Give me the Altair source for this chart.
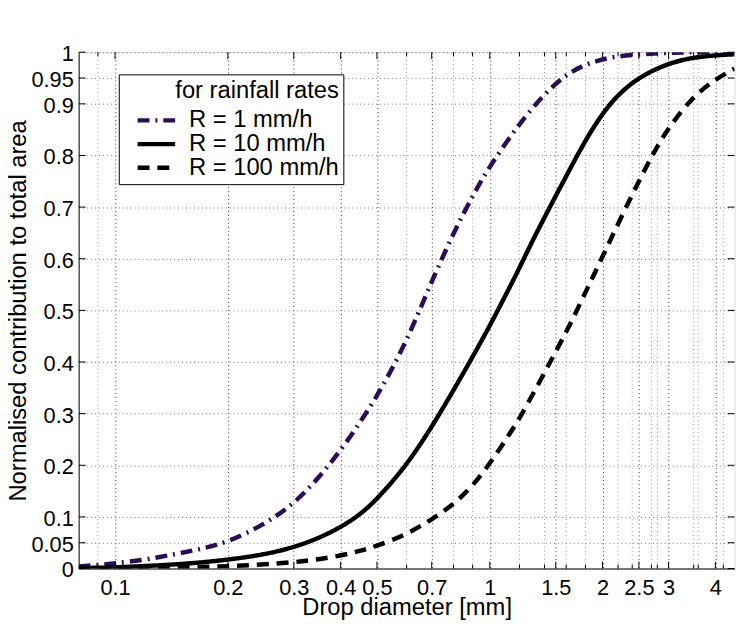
import altair as alt
import pandas as pd

SERIES = ["R = 1 mm/h", "R = 10 mm/h", "R = 100 mm/h"]
COLORS = ["#2c0b57", "#000000", "#000000"]
DASHES = [[12, 6, 2, 6], [1, 0], [12, 8]]

R1_D = [0.08, 0.09, 0.1, 0.12, 0.145, 0.17, 0.2, 0.25, 0.3, 0.35, 0.4, 0.45, 0.5,
        0.55, 0.6, 0.65, 0.7, 0.8, 0.9, 1.0, 1.2, 1.4, 1.6, 1.8, 2.1, 2.5, 3.0, 3.5, 4.0, 4.5]
R1_V = [0.004, 0.007, 0.010, 0.017, 0.028, 0.038, 0.051, 0.085, 0.125, 0.176, 0.229,
        0.282, 0.334, 0.388, 0.443, 0.500, 0.556, 0.650, 0.722, 0.780, 0.862, 0.920, 0.957,
        0.977, 0.991, 0.996, 0.999, 1.0, 1.0, 1.0]

R10_D = [0.08, 0.1, 0.13, 0.16, 0.2, 0.25, 0.3, 0.35, 0.4, 0.45, 0.5, 0.6, 0.7, 0.8, 0.9,
         1.0, 1.1, 1.2, 1.3, 1.4, 1.5, 1.6, 1.8, 2.0, 2.2, 2.5, 3.0, 3.5, 4.0, 4.5]
R10_V = [0.001, 0.002, 0.006, 0.010, 0.017, 0.027, 0.041, 0.059, 0.080, 0.104, 0.134, 0.200,
         0.274, 0.345, 0.410, 0.470, 0.528, 0.582, 0.635, 0.680, 0.722, 0.760, 0.830, 0.882,
         0.918, 0.952, 0.979, 0.990, 0.994, 0.996]

R100_D = [0.08, 0.12, 0.18, 0.24, 0.3, 0.35, 0.4, 0.45, 0.5, 0.6, 0.7, 0.8, 0.9, 1.0, 1.1,
          1.2, 1.35, 1.5, 1.65, 1.8, 1.9, 2.1, 2.4, 2.7, 3.0, 3.5, 4.0, 4.5]
R100_V = [0.000, 0.001, 0.003, 0.007, 0.012, 0.018, 0.025, 0.034, 0.044, 0.066, 0.095, 0.124,
          0.160, 0.203, 0.248, 0.290, 0.358, 0.420, 0.477, 0.535, 0.570, 0.637, 0.725, 0.798,
          0.855, 0.915, 0.948, 0.968]

X_TICKS = [0.1, 0.2, 0.3, 0.4, 0.5, 0.7, 1, 1.5, 2, 2.5, 3, 4]
X_MINOR = [0.09, 0.6, 0.8, 0.9, 1.2, 1.4, 1.6, 1.8, 2.2, 2.4, 2.7, 2.8, 3.5, 3.6, 4.2]
Y_TICKS = [0, 0.05, 0.1, 0.2, 0.3, 0.4, 0.5, 0.6, 0.7, 0.8, 0.9, 0.95, 1]

rows = []
for name, ds, vs in [(SERIES[0], R1_D, R1_V), (SERIES[1], R10_D, R10_V), (SERIES[2], R100_D, R100_V)]:
    for d, v in zip(ds, vs):
        rows.append({"series": name, "d": d, "v": v})
df = pd.DataFrame(rows)

W, H = 663, 522
FONT = "Liberation Sans"
FS = 22      # tick labels
FT = 24      # titles and legend

xscale = alt.Scale(type="log", domain=[0.08, 4.5], nice=False)
yscale = alt.Scale(domain=[0, 1], nice=False, zero=False)

legend = alt.Legend(
    title="for rainfall rates", orient="none", legendX=40.5, legendY=22.4,
    symbolType="M-3,0H3", symbolSize=160, symbolStrokeWidth=4.5, symbolOffset=21.5,
    labelFontSize=FT, labelFont=FONT, labelColor="black", labelOffset=21, labelLimit=400,
    titleFontSize=FT, titleFont=FONT, titleFontWeight="normal", titleColor="black",
    titleAnchor="end", titlePadding=6, padding=4.5, rowPadding=0,
    strokeColor="black", fillColor="white", cornerRadius=0,
)

xaxis = alt.Axis(
    values=X_TICKS, title="Drop diameter [mm]", grid=True, gridDash=[1, 3], gridColor="#333",
    gridOpacity=1, ticks=False, tickSize=0, labelPadding=26, labelBaseline="alphabetic",
    labelFontSize=FS, labelFont=FONT, labelColor="black", labelExpr="'' + datum.value",
    labelFlush=False, labelOverlap=False,
    titleFontSize=FT, titleFont=FONT, titleFontWeight="normal", titleColor="black",
    titleX=W / 2, titleY=46.5, titleBaseline="alphabetic", titleAlign="center",
    domainColor="#555", domainWidth=1.5,
)
yaxis = alt.Axis(
    values=Y_TICKS, title="Normalised contribution to total area", grid=True, gridDash=[1, 3],
    gridColor="#777", gridOpacity=1, ticks=False, tickSize=0, labelPadding=5.5,
    labelBaseline="middle", labelOffset=1.5, labelFontSize=FS, labelFont=FONT, labelColor="black",
    labelExpr="'' + datum.value", labelFlush=False, labelOverlap=False,
    titleFontSize=FT, titleFont=FONT, titleFontWeight="normal", titleColor="black",
    titleX=-54, titleY=H / 2, titleAngle=270, titleBaseline="alphabetic", titleAlign="center",
    domainColor="#555", domainWidth=1.5,
)

minor_df = pd.DataFrame({"d": X_MINOR})
major_df = pd.DataFrame({"d": X_TICKS})
ytick_df = pd.DataFrame({"v": Y_TICKS})

minor_grid = alt.Chart(minor_df).mark_rule(strokeDash=[1, 3], color="#999", strokeWidth=1).encode(
    x=alt.X("d:Q", scale=xscale, axis=xaxis)
)

lines = alt.Chart(df).mark_line(strokeWidth=4.5, interpolate="basis", clip=True).encode(
    x=alt.X("d:Q", scale=xscale, axis=xaxis),
    y=alt.Y("v:Q", scale=yscale, axis=yaxis),
    color=alt.Color("series:N", scale=alt.Scale(domain=SERIES, range=COLORS), legend=legend),
    strokeDash=alt.StrokeDash("series:N", scale=alt.Scale(domain=SERIES, range=DASHES), legend=legend),
    detail="series:N",
)

def xticks(data, y1, y2):
    return alt.Chart(data).mark_rule(color="black", strokeWidth=1).encode(
        x=alt.X("d:Q", scale=xscale, axis=xaxis), y=alt.value(y1), y2=alt.value(y2)
    )

def yticks(x1, x2):
    return alt.Chart(ytick_df).mark_rule(color="black", strokeWidth=1).encode(
        y=alt.Y("v:Q", scale=yscale, axis=yaxis), x=alt.value(x1), x2=alt.value(x2)
    )

chart = alt.layer(
    minor_grid,
    xticks(major_df, H, H - 7), xticks(major_df, 0, 7),
    xticks(minor_df, H, H - 4), xticks(minor_df, 0, 4),
    yticks(0, 7), yticks(W, W - 7),
    lines,
).properties(
    width=W, height=H, autosize="none",
    padding={"left": 71.5, "top": 41.3, "right": 4.5, "bottom": 57.5},
).configure_view(stroke="black", strokeWidth=1).configure(font=FONT, background="white")

chart.save("out.html", embed_options={"renderer": "svg", "actions": False})
